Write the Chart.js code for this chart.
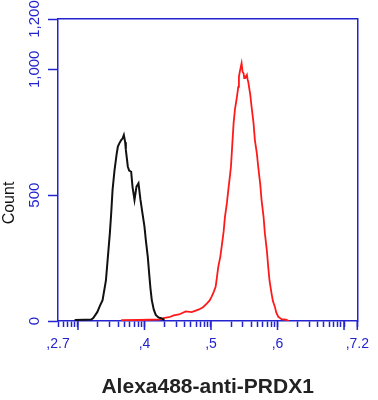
<!DOCTYPE html>
<html>
<head>
<meta charset="utf-8">
<script src="https://cdn.jsdelivr.net/npm/chart.js@4.4.1/dist/chart.umd.min.js"></script>
<style>
  html, body { margin: 0; padding: 0; background: #fff; }
</style>
</head>
<body>
<canvas id="chart" width="378" height="400"></canvas>
<script>
// histogram channels, x in log10 decades
const blackX = [2.95, 3.10, 3.20, 3.23, 3.29, 3.33, 3.37, 3.42, 3.45, 3.48, 3.50, 3.52, 3.55, 3.58, 3.60, 3.62, 3.65, 3.67, 3.69, 3.71, 3.72, 3.75, 3.77, 3.80, 3.82, 3.85, 3.88, 3.91, 3.94, 3.97, 4.00, 4.02, 4.05, 4.07, 4.09, 4.11, 4.14, 4.17, 4.21, 4.25, 4.30];
const blackY = [4, 5, 6, 12, 35, 60, 83, 160, 255, 350, 429, 520, 600, 660, 693, 705, 719, 725, 739, 710, 680, 613, 598, 593, 534, 481, 534, 547, 481, 428, 375, 322, 255, 190, 130, 83, 45, 24, 14, 11, 4];
const redX = [3.65, 3.92, 4.22, 4.30, 4.37, 4.44, 4.52, 4.62, 4.71, 4.82, 4.88, 4.94, 4.98, 5.01, 5.04, 5.07, 5.09, 5.11, 5.14, 5.16, 5.19, 5.21, 5.24, 5.26, 5.28, 5.30, 5.32, 5.34, 5.36, 5.39, 5.41, 5.42, 5.44, 5.46, 5.475, 5.49, 5.50, 5.51, 5.52, 5.54, 5.55, 5.56, 5.59, 5.61, 5.64, 5.66, 5.69, 5.71, 5.74, 5.76, 5.79, 5.81, 5.84, 5.86, 5.88, 5.91, 5.93, 5.96, 5.98, 6.01, 6.06, 6.13, 6.17];
const redY = [3, 4, 6, 12, 15, 22, 26, 38, 35, 46, 55, 70, 82, 97, 115, 136, 175, 216, 255, 295, 355, 414, 470, 520, 565, 613, 700, 786, 840, 891, 930, 971, 1000, 1024, 990, 984, 965, 971, 968, 978, 960, 951, 900, 852, 785, 719, 665, 613, 545, 481, 415, 349, 280, 216, 160, 110, 80, 57, 35, 17, 7, 5, 0];

const yTicks = [0, 500, 1000, 1200];
const yTickLabels = ['0', '500', '1,000', '1,200'];
const xMin = 2.7, xMax = 7.2;
const xDecades = [3, 4, 5, 6, 7];
const xLabelVals = [2.7, 4, 5, 6, 7.2];
const xLabelText = [',2.7', ',4', ',5', ',6', ',7.2'];

const BLUE = '#2323d0';

const toPts = (xs, ys) => xs.map((x, i) => ({x: x, y: ys[i]}));

// decade + minor (2..9 x 10^k) tick positions
function xTickValues() {
  const vals = [xMin, xMax];
  for (let k = 2; k <= 7; k++) {
    for (let m = 1; m <= 9; m++) {
      const v = k + Math.log10(m);
      if (v > xMin + 0.001 && v < xMax - 0.001) vals.push(v);
    }
  }
  return vals.sort((a, b) => a - b).map(v => ({value: v}));
}

const extras = {
  id: 'extras',
  afterDraw(chart) {
    const ctx = chart.ctx;
    const ys = chart.scales.y, xs = chart.scales.x;
    const bottom = chart.chartArea.bottom;
    ctx.save();
    // longer decade ticks
    ctx.strokeStyle = BLUE;
    ctx.lineWidth = 1.5;
    xDecades.concat([xMax]).forEach(v => {
      const px = xs.getPixelForValue(v);
      ctx.beginPath();
      ctx.moveTo(px, bottom);
      ctx.lineTo(px, bottom + 9);
      ctx.stroke();
    });
    // rotated y tick labels
    ctx.fillStyle = BLUE;
    ctx.font = '15px "Liberation Sans", Arial, sans-serif';
    ctx.textAlign = 'center';
    ctx.textBaseline = 'middle';
    yTicks.forEach((v, i) => {
      const py = ys.getPixelForValue(v);
      ctx.save();
      ctx.translate(35, py);
      ctx.rotate(-Math.PI / 2);
      ctx.fillText(yTickLabels[i], 0, 0);
      ctx.restore();
    });
    // axis name
    ctx.fillStyle = '#111';
    ctx.font = '16px "Liberation Sans", Arial, sans-serif';
    ctx.save();
    ctx.translate(10, 203);
    ctx.rotate(-Math.PI / 2);
    ctx.fillText('Count', 0, 0);
    ctx.restore();
    ctx.restore();
  }
};

new Chart(document.getElementById('chart'), {
  type: 'line',
  data: {
    datasets: [
      {
        label: 'control',
        data: toPts(blackX, blackY),
        borderColor: '#111',
        borderWidth: 2,
        pointRadius: 0,
        tension: 0
      },
      {
        label: 'PRDX1',
        data: toPts(redX, redY),
        borderColor: '#ff1a1a',
        borderWidth: 1.8,
        pointRadius: 0,
        tension: 0
      }
    ]
  },
  options: {
    responsive: false,
    devicePixelRatio: 1,
    animation: false,
    layout: { padding: { top: 19, right: 18, left: 0, bottom: 0 } },
    plugins: { legend: { display: false }, tooltip: { enabled: false } },
    scales: {
      x: {
        type: 'linear',
        min: xMin,
        max: xMax,
        afterBuildTicks: s => { s.ticks = xTickValues(); },
        afterFit: s => { s.height = 79; },
        border: { color: BLUE, width: 1.5 },
        grid: { drawOnChartArea: false, tickLength: 6, tickColor: BLUE, tickWidth: 1.5 },
        ticks: {
          autoSkip: false,
          maxRotation: 0,
          padding: 9,
          color: BLUE,
          font: { size: 14, family: '"Liberation Sans", Arial, sans-serif' },
          callback: v => {
            const i = xLabelVals.findIndex(t => Math.abs(t - v) < 0.001);
            return i >= 0 ? xLabelText[i] : '';
          }
        },
        title: {
          display: true,
          text: 'Alexa488-anti-PRDX1',
          color: '#222',
          font: { size: 21, weight: 'bold', family: '"Liberation Sans", Arial, sans-serif' },
          padding: { top: 14, bottom: 0 }
        }
      },
      x2: {
        type: 'linear',
        position: 'top',
        min: xMin,
        max: xMax,
        afterFit: s => { s.height = 0; },
        border: { color: BLUE, width: 1.5 },
        grid: { drawOnChartArea: false, drawTicks: false },
        ticks: { display: false }
      },
      y: {
        min: 0,
        max: 1200,
        afterBuildTicks: s => { s.ticks = yTicks.map(v => ({value: v})); },
        afterFit: s => { s.width = 58; },
        border: { color: BLUE, width: 1.5 },
        grid: { drawOnChartArea: false, tickLength: 10, tickColor: BLUE, tickWidth: 1.5 },
        ticks: { display: false }
      },
      y2: {
        position: 'right',
        min: 0,
        max: 1200,
        afterFit: s => { s.width = 0; },
        border: { color: BLUE, width: 1.5 },
        grid: { drawOnChartArea: false, drawTicks: false },
        ticks: { display: false }
      }
    }
  },
  plugins: [extras]
});
</script>
</body>
</html>
